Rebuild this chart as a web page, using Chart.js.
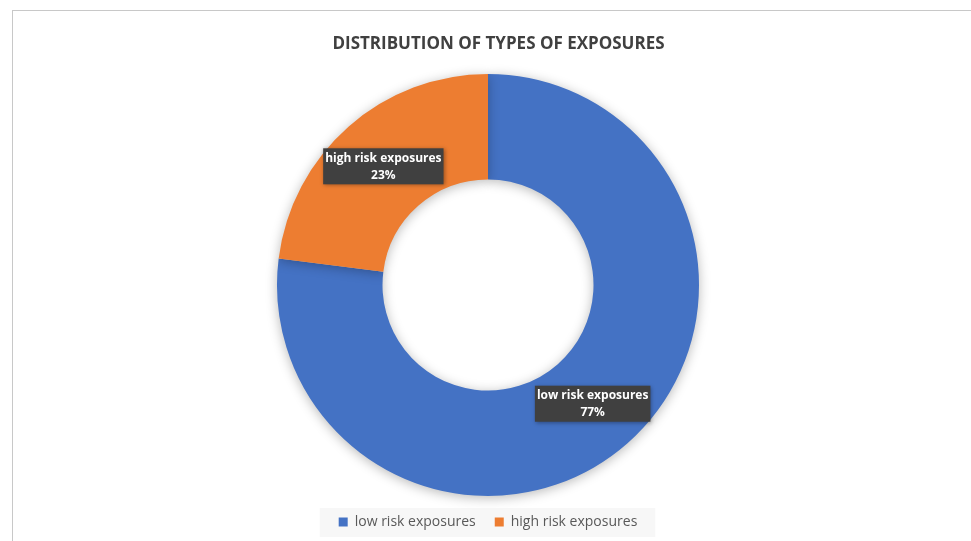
<!DOCTYPE html>
<html>
<head>
<meta charset="utf-8">
<script src="https://cdn.jsdelivr.net/npm/chart.js@4/dist/chart.umd.min.js"></script>
<style>
  html, body { margin: 0; padding: 0; background: #fff; overflow: hidden; }
  .frame { position: absolute; left: 12px; top: 10px; width: 1000px; height: 600px;
           border-left: 1px solid #c8c8c8; border-top: 1px solid #c8c8c8; }
  .wrap { position: absolute; left: 0; top: 0; width: 971px; height: 545px; }
</style>
</head>
<body>
<div class="frame"></div>
<div class="wrap"><canvas id="chart"></canvas></div>
<script>
var title = 'DISTRIBUTION OF TYPES OF EXPOSURES';
var categories = ['low risk exposures', 'high risk exposures'];
var shares = [77, 23];
var colors = ['#4472C4', '#ED7D31'];

// title sits a little right of the ring centre, so it is drawn here
var titleText = {
  id: 'titleText',
  afterDraw: function(chart) {
    var ctx = chart.ctx;
    ctx.save();
    ctx.font = 'bold 17px "Open Sans"';
    ctx.fillStyle = '#404040';
    ctx.textAlign = 'center';
    ctx.textBaseline = 'middle';
    ctx.fillText(title, chart.width / 2 + 13, 44);
    ctx.restore();
  }
};

// soft shadow round the ring
var ringShadow = {
  id: 'ringShadow',
  beforeDatasetsDraw: function(chart) {
    var ctx = chart.ctx;
    ctx.save();
    ctx.shadowColor = 'rgba(0,0,0,0.28)';
    ctx.shadowBlur = 12;
    ctx.shadowOffsetY = 2;
  },
  afterDatasetsDraw: function(chart) {
    chart.ctx.restore();
  }
};

// dark callout boxes with name and percent
var sliceLabels = {
  id: 'sliceLabels',
  afterDatasetsDraw: function(chart) {
    var ctx = chart.ctx;
    var meta = chart.getDatasetMeta(0);
    ctx.save();
    ctx.font = 'bold 12px "Open Sans"';
    ctx.textAlign = 'center';
    ctx.textBaseline = 'middle';
    meta.data.forEach(function(arc, i) {
      var p = arc.tooltipPosition();
      var l1 = categories[i];
      var l2 = shares[i] + '%';
      var w = ctx.measureText(l1).width + 4;
      var h = 36;
      ctx.shadowColor = 'rgba(0,0,0,0.35)';
      ctx.shadowBlur = 4;
      ctx.shadowOffsetX = 1;
      ctx.shadowOffsetY = 1;
      ctx.fillStyle = '#404040';
      ctx.fillRect(p.x - w / 2, p.y - h / 2, w, h);
      ctx.shadowColor = 'transparent';
      ctx.fillStyle = '#ffffff';
      ctx.fillText(l1, p.x, p.y - 8);
      ctx.fillText(l2, p.x, p.y + 9);
    });
    ctx.restore();
  }
};

// light panel behind the legend
var legendPanel = {
  id: 'legendPanel',
  beforeDraw: function(chart) {
    var boxes = chart.legend.legendHitBoxes;
    if (!boxes || !boxes.length) return;
    var first = boxes[0], last = boxes[boxes.length - 1];
    var ctx = chart.ctx;
    ctx.save();
    ctx.fillStyle = '#f7f7f7';
    var x1 = first.left - 19, x2 = last.left + last.width + 18;
    var cy = first.top + first.height / 2;
    ctx.fillRect(x1, cy - 14, x2 - x1, 29);
    ctx.restore();
  }
};

new Chart(document.getElementById('chart'), {
  type: 'doughnut',
  data: {
    labels: categories,
    datasets: [{
      data: shares,
      backgroundColor: colors,
      borderWidth: 0
    }]
  },
  options: {
    responsive: true,
    maintainAspectRatio: false,
    animation: false,
    cutout: '50%',
    layout: { padding: { left: 5, top: 74, bottom: 6 } },
    plugins: {
      title: { display: false },
      legend: {
        position: 'bottom',
        labels: {
          color: '#595959',
          font: { family: '"Open Sans"', size: 14 },
          boxWidth: 9,
          boxHeight: 9,
          padding: 19
        }
      },
      tooltip: { enabled: false }
    }
  },
  plugins: [legendPanel, ringShadow, sliceLabels, titleText]
});
</script>
</body>
</html>
